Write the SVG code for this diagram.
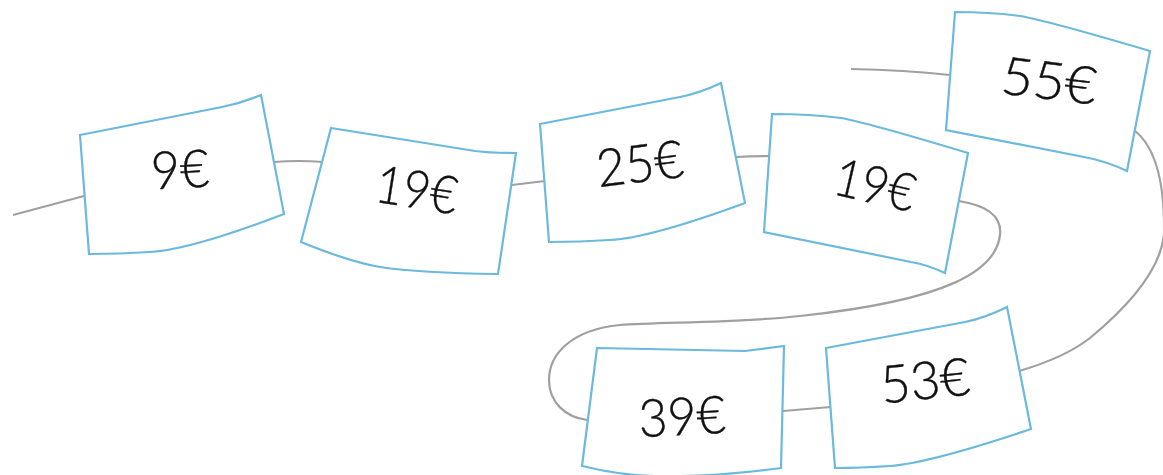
<svg xmlns="http://www.w3.org/2000/svg" width="1163" height="475" viewBox="0 0 1163 475">
  <style>
    .card { fill: #ffffff; stroke: #6bb9dc; stroke-width: 2.2; stroke-linejoin: miter; }
    .link { fill: none; stroke: #a0a0a0; stroke-width: 2.2; }
    .price { font-family: "Lato", "Open Sans", sans-serif; font-weight: 300; font-size: 50px; fill: #111111; stroke: #111111; stroke-width: 0.35; text-anchor: middle; }
  </style>
  <rect width="1163" height="475" fill="#ffffff"/>
  <g id="connectors">
    <path class="link" d="M13 215 L84 196"/>
    <path class="link" d="M274 162 Q298 160 323 162"/>
    <path class="link" d="M512 185 L545 181"/>
    <path class="link" d="M736 157 Q752 156 770 156"/>
    <path class="link" d="M959 201 C990 206 1002 218 1000 235 C996 270 950 300 800 316 C740 323 660 322 620 325 C570 330 549 355 549 380 C549 402 565 417 587 420"/>
    <path class="link" d="M783 411 L831 407"/>
    <path class="link" d="M851 69 Q905 70 950 75"/>
    <path class="link" d="M1135 131 C1155 147 1165 180 1164 235 C1160 270 1130 305 1090 338 C1072 352 1050 362 1019 371"/>
  </g>
  <g id="node-9">
    <path class="card" d="M80 135 L222 107 Q242 103 261 95 L284 214 Q190 250 150 252 Q120 254 89 254 Z"/>
    <text class="price" transform="translate(181 188) rotate(-3) scale(1 1.05)">9€</text>
  </g>
  <g id="node-19a">
    <path class="card" d="M331 128 L475 151 Q490 153 516 153 L498 274 Q420 273 380 267 Q350 262 301 242 Z"/>
    <text class="price" transform="translate(414 208) rotate(9) scale(0.94 1.05)">19€</text>
  </g>
  <g id="node-25">
    <path class="card" d="M540 124 L680 97 Q700 93 721 83 L745 203 Q650 238 610 240 Q580 242 549 242 Z"/>
    <text class="price" transform="translate(642 182) rotate(-7) scale(1 1.05)">25€</text>
  </g>
  <g id="node-19b">
    <path class="card" d="M772 114 Q810 114 841 118 Q865 122 968 153 L945 273 Q928 265 911 262 L764 232 Z"/>
    <text class="price" transform="translate(871 203) rotate(13) scale(0.94 1.05)">19€</text>
  </g>
  <g id="node-55">
    <path class="card" d="M955 12 Q990 12 1020 16 Q1045 20 1150 51 L1127 171 Q1108 162 1089 158 L946 130 Z"/>
    <text class="price" transform="translate(1047 99) rotate(7) scale(1.1 1.05)">55€</text>
  </g>
  <g id="node-53">
    <path class="card" d="M826 348 L965 322 Q985 318 1007 307 L1031 429 Q930 463 890 466 Q860 468 835 468 Z"/>
    <text class="price" transform="translate(927 399) rotate(-6) scale(1.03 1.05)">53€</text>
  </g>
  <g id="node-39">
    <path class="card" d="M597 348 L745 351 L784 346 L781 468 Q720 476 680 476 Q630 478 582 466 Z"/>
    <text class="price" transform="translate(683 435) rotate(-3) scale(1 1.05)">39€</text>
  </g>
</svg>
